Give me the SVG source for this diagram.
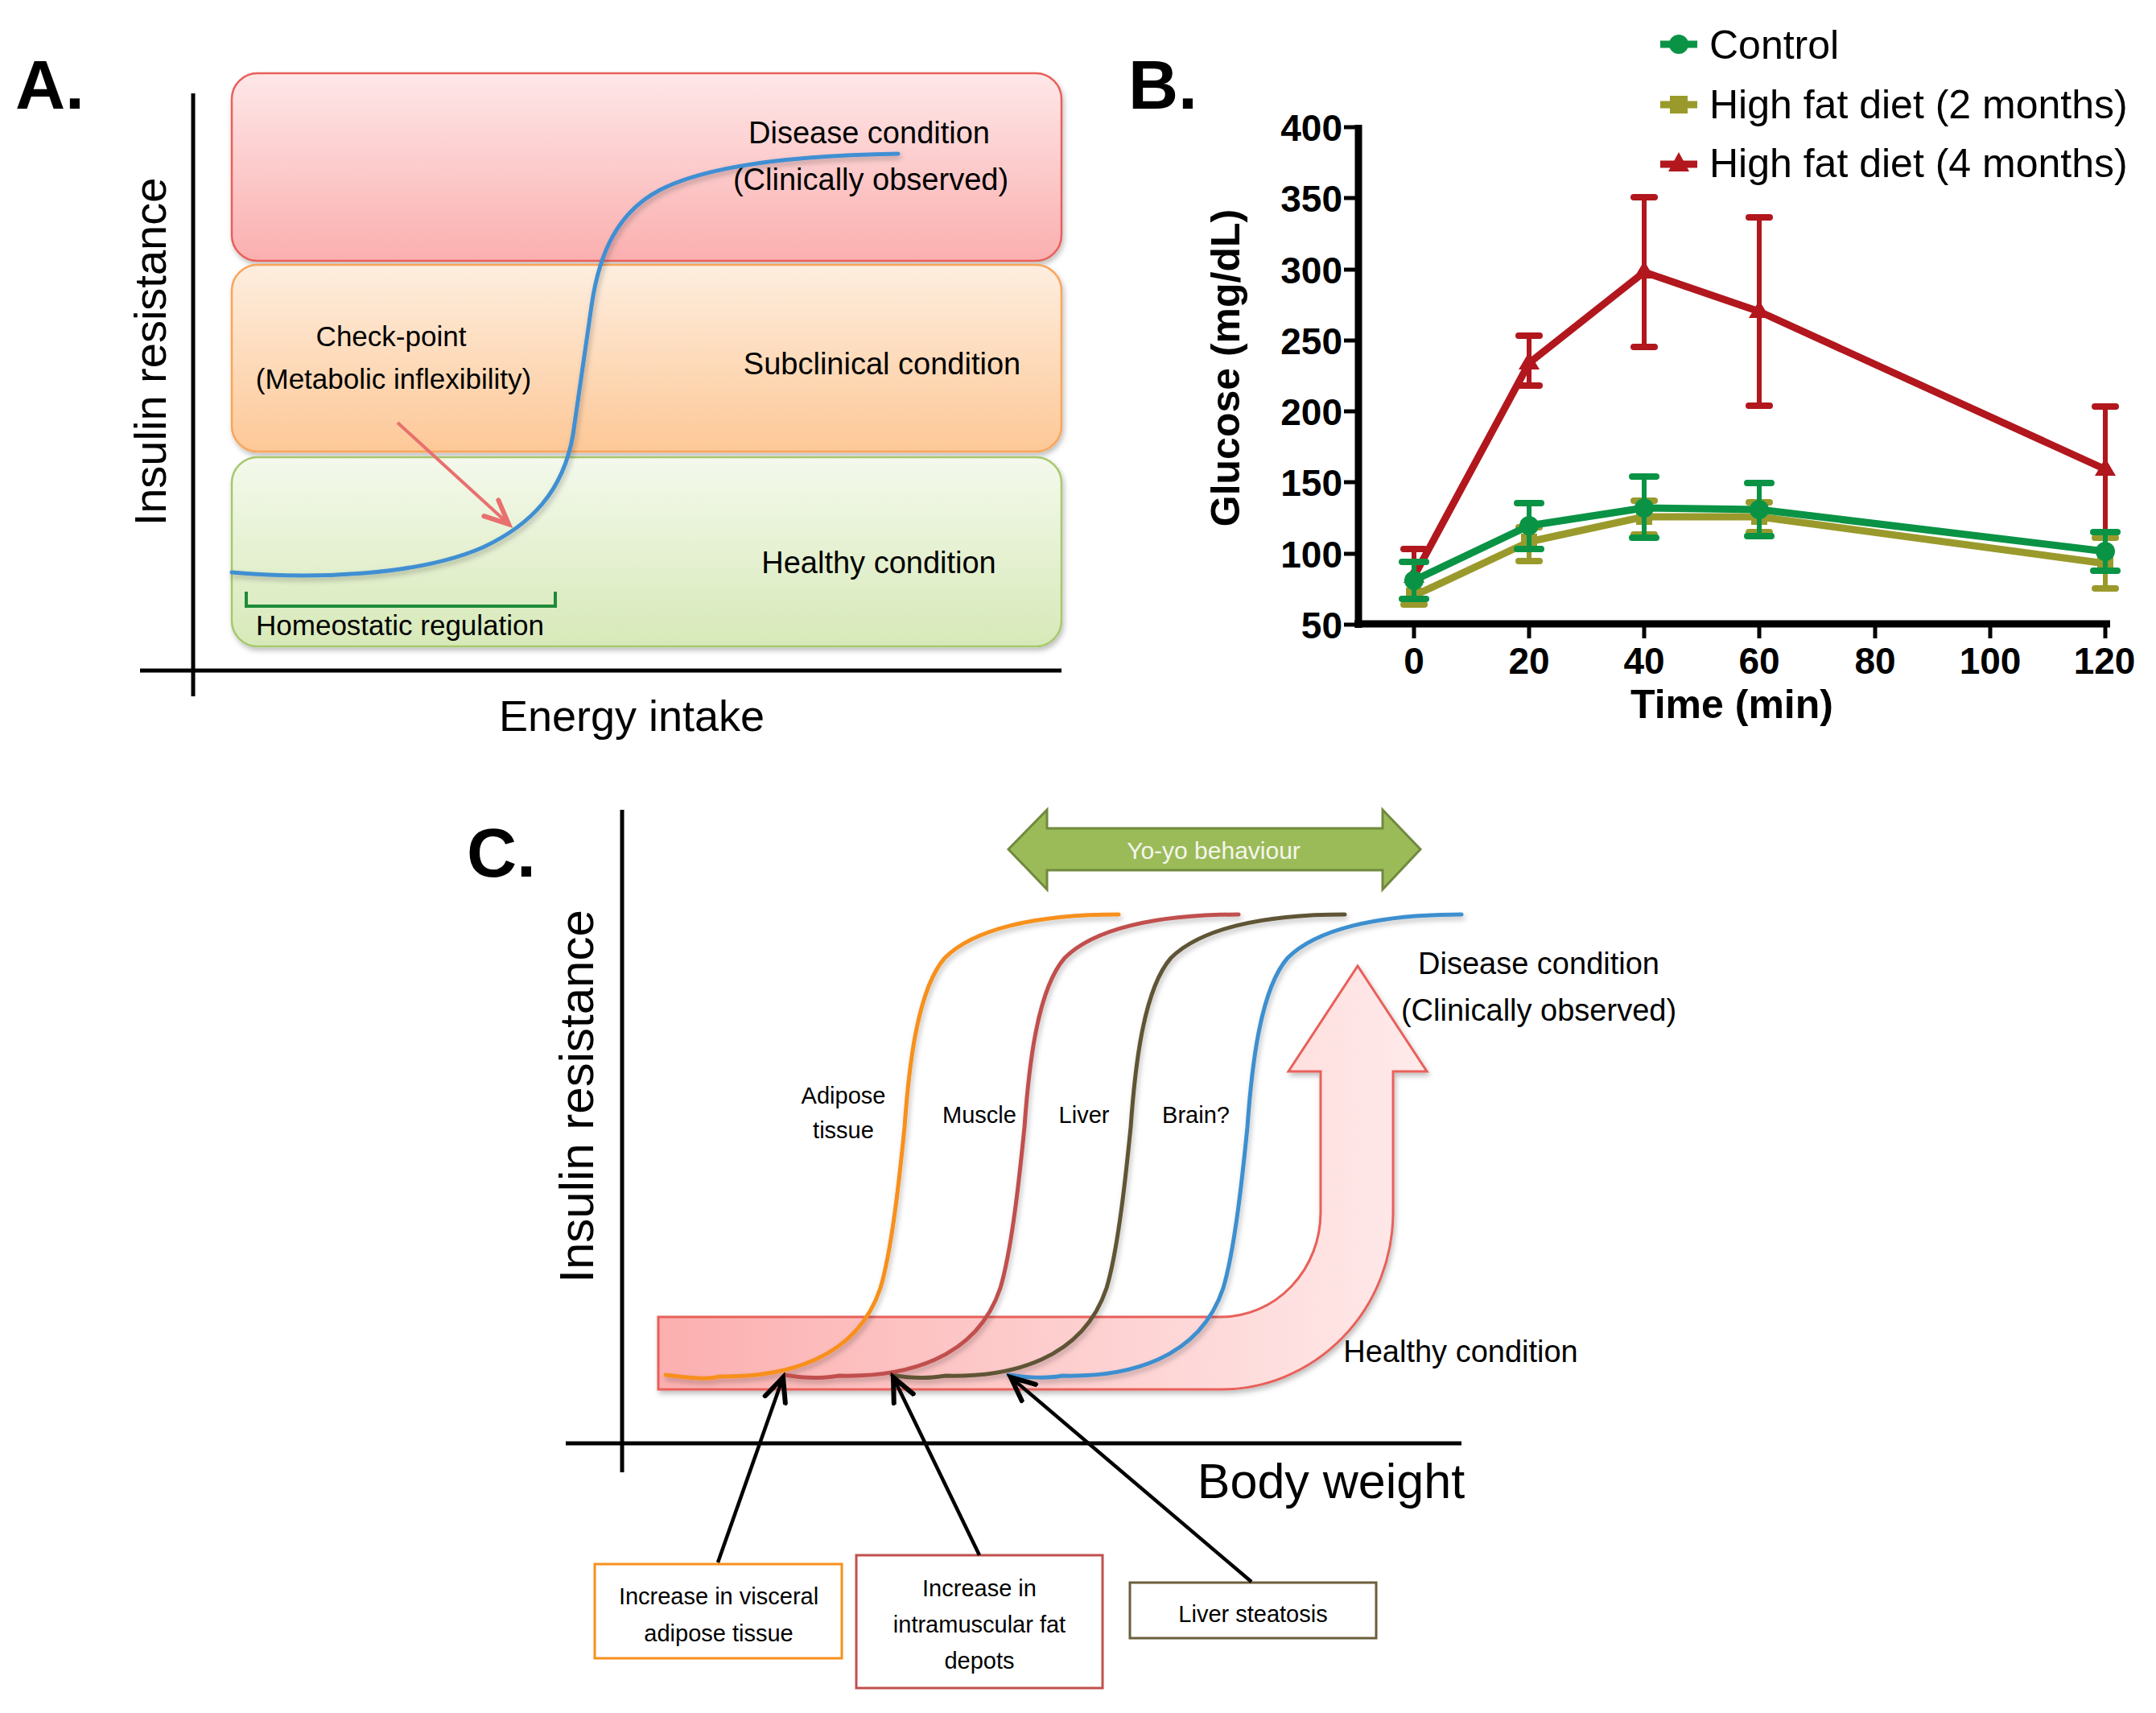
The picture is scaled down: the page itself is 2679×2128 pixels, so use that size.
<svg xmlns="http://www.w3.org/2000/svg" width="2679" height="2128" viewBox="0 0 2679 2128">
<defs>
<style>
text{font-family:"Liberation Sans",Arial,sans-serif;fill:#000}
.lbl{font-weight:bold;font-size:86px}
.a{font-size:38px;text-anchor:middle}
.s{font-size:35px;text-anchor:middle}
.c{font-size:29px;text-anchor:middle}
.tk{font-size:46px;font-weight:bold}
.lg{font-size:50px}
.ax{stroke:#000;stroke-width:5;fill:none}
.bax{stroke:#000;stroke-width:9;fill:none}
.cur{fill:none;stroke-width:5;stroke-linecap:round}
.eb{fill:none;stroke-linecap:round}
.box{fill:#fff;stroke-width:3}
</style>
<linearGradient id="gR" x1="0" y1="0" x2="0" y2="1"><stop offset="0" stop-color="#FEE7E8"/><stop offset="1" stop-color="#FBAFAF"/></linearGradient>
<linearGradient id="gO" x1="0" y1="0" x2="0" y2="1"><stop offset="0" stop-color="#FEEEDF"/><stop offset="1" stop-color="#FDC897"/></linearGradient>
<linearGradient id="gG" x1="0" y1="0" x2="0" y2="1"><stop offset="0" stop-color="#F4F9EC"/><stop offset="1" stop-color="#D7E9B8"/></linearGradient>
<linearGradient id="gP" gradientUnits="userSpaceOnUse" x1="818" y1="0" x2="1773" y2="0"><stop offset="0" stop-color="#FCAFAF"/><stop offset="1" stop-color="#FFEAEA"/></linearGradient>
<filter id="sh" x="-5%" y="-5%" width="110%" height="115%"><feDropShadow dx="2" dy="4" stdDeviation="3" flood-color="#000" flood-opacity="0.25"/></filter>
<marker id="ab" markerUnits="userSpaceOnUse" markerWidth="40" markerHeight="40" refX="24" refY="12" orient="auto" viewBox="0 0 30 24"><path d="M2,2 L24,12 L2,22" fill="none" stroke="#000" stroke-width="4.5" stroke-linecap="round"/></marker>
<marker id="ar" markerUnits="userSpaceOnUse" markerWidth="40" markerHeight="40" refX="24" refY="12" orient="auto" viewBox="0 0 30 24"><path d="M2,2 L24,12 L2,22" fill="none" stroke="#E8706E" stroke-width="4.5" stroke-linecap="round"/></marker>
</defs>
<rect width="2679" height="2128" fill="#fff"/>

<!-- Panel A -->
<g id="panelA">
<text class="lbl" x="19" y="135">A.</text>
<g id="a-disease"><rect x="288" y="91" width="1031" height="233" rx="32" fill="url(#gR)" stroke="#E8605A" stroke-width="2.5" filter="url(#sh)"/>
<text class="a" x="1080" y="178">Disease condition</text><text class="a" x="1082" y="236">(Clinically observed)</text></g>
<g id="a-subclinical"><rect x="288" y="329" width="1031" height="232" rx="32" fill="url(#gO)" stroke="#F9A55A" stroke-width="2.5" filter="url(#sh)"/>
<text class="a" x="1096" y="465">Subclinical condition</text>
<text class="s" x="486" y="430">Check-point</text><text class="s" x="489" y="483">(Metabolic inflexibility)</text></g>
<g id="a-healthy"><rect x="288" y="568" width="1031" height="235" rx="32" fill="url(#gG)" stroke="#A6C86E" stroke-width="2.5" filter="url(#sh)"/>
<text class="a" x="1092" y="712">Healthy condition</text>
<text class="s" x="497" y="789">Homeostatic regulation</text></g>
<g id="a-axes">
<line class="ax" x1="240" y1="116" x2="240" y2="865"/>
<line class="ax" x1="174" y1="833" x2="1319" y2="833"/>
<text transform="translate(206,437) rotate(-90)" font-size="56" text-anchor="middle">Insulin resistance</text>
<text x="785" y="908" font-size="54" text-anchor="middle">Energy intake</text>
</g>
<g id="a-connectors">
<path class="cur" stroke="#3F8FD2" stroke-width="4.5" d="M288,711 C390,720 520,715 600,680 C660,652 700,610 712,540 L735,380 C745,310 770,262 820,236 C880,205 990,193 1116,191" filter="url(#sh)"/>
<path d="M306,735 L306,753 L690,753 L690,735" fill="none" stroke="#1E8B3A" stroke-width="4"/>
<line x1="494" y1="525" x2="632" y2="651" stroke="#E8706E" stroke-width="4" marker-end="url(#ar)"/>
</g>
</g>

<!-- Panel B -->
<g id="panelB">
<text class="lbl" x="1402" y="135">B.</text>
<g id="b-axes">
<line class="bax" x1="1688" y1="155" x2="1688" y2="780"/>
<line class="bax" x1="1683" y1="775" x2="2622" y2="775"/>
<g stroke="#000" stroke-width="5">
<line x1="1670" y1="158" x2="1688" y2="158"/><line x1="1670" y1="246" x2="1688" y2="246"/><line x1="1670" y1="335" x2="1688" y2="335"/><line x1="1670" y1="423" x2="1688" y2="423"/><line x1="1670" y1="511" x2="1688" y2="511"/><line x1="1670" y1="599" x2="1688" y2="599"/><line x1="1670" y1="688" x2="1688" y2="688"/><line x1="1670" y1="776" x2="1688" y2="776"/>
<line x1="1757" y1="775" x2="1757" y2="793"/><line x1="1900" y1="775" x2="1900" y2="793"/><line x1="2043" y1="775" x2="2043" y2="793"/><line x1="2186" y1="775" x2="2186" y2="793"/><line x1="2330" y1="775" x2="2330" y2="793"/><line x1="2473" y1="775" x2="2473" y2="793"/><line x1="2616" y1="775" x2="2616" y2="793"/>
</g>
<g class="tk" text-anchor="end">
<text class="tk" x="1668" y="175">400</text><text class="tk" x="1668" y="263">350</text><text class="tk" x="1668" y="352">300</text><text class="tk" x="1668" y="440">250</text><text class="tk" x="1668" y="528">200</text><text class="tk" x="1668" y="616">150</text><text class="tk" x="1668" y="705">100</text><text class="tk" x="1668" y="793">50</text>
</g>
<g text-anchor="middle">
<text class="tk" x="1757" y="837">0</text><text class="tk" x="1900" y="837">20</text><text class="tk" x="2043" y="837">40</text><text class="tk" x="2186" y="837">60</text><text class="tk" x="2330" y="837">80</text><text class="tk" x="2473" y="837">100</text><text class="tk" x="2615" y="837">120</text>
</g>
<text transform="translate(1540,457) rotate(-90)" font-size="50" font-weight="bold" text-anchor="middle">Glucose (mg/dL)</text>
<text x="2152" y="892" font-size="50" font-weight="bold" text-anchor="middle">Time (min)</text>
</g>
<g id="b-hfd4">
<g class="eb" stroke="#B1171D" stroke-width="6">
<line x1="1757" y1="682" x2="1757" y2="716"/><line x1="1900" y1="417" x2="1900" y2="479"/><line x1="2043" y1="245" x2="2043" y2="431"/><line x1="2186" y1="270" x2="2186" y2="504"/><line x1="2616" y1="505" x2="2616" y2="661"/>
</g>
<g class="eb" stroke="#B1171D" stroke-width="8">
<line x1="1744" y1="682" x2="1770" y2="682"/><line x1="1887" y1="417" x2="1913" y2="417"/><line x1="1887" y1="479" x2="1913" y2="479"/><line x1="2030" y1="245" x2="2056" y2="245"/><line x1="2030" y1="431" x2="2056" y2="431"/><line x1="2173" y1="270" x2="2199" y2="270"/><line x1="2173" y1="504" x2="2199" y2="504"/><line x1="2603" y1="505" x2="2629" y2="505"/>
</g>
<polyline points="1757,716 1900,451 2043,338 2186,387 2616,583" fill="none" stroke="#B1171D" stroke-width="9" stroke-linejoin="round"/>
<g fill="#B1171D"><path d="M1757,702 l13,22 h-26z"/><path d="M1900,437 l13,22 h-26z"/><path d="M2043,324 l13,22 h-26z"/><path d="M2186,373 l13,22 h-26z"/><path d="M2616,569 l13,22 h-26z"/></g>
</g>
<g id="b-hfd2">
<g class="eb" stroke="#9A9A2C" stroke-width="6">
<line x1="1757" y1="719" x2="1757" y2="751"/><line x1="1900" y1="655" x2="1900" y2="697"/><line x1="2043" y1="622" x2="2043" y2="664"/><line x1="2186" y1="624" x2="2186" y2="661"/><line x1="2616" y1="668" x2="2616" y2="731"/>
</g>
<g class="eb" stroke="#9A9A2C" stroke-width="8">
<line x1="1744" y1="751" x2="1770" y2="751"/><line x1="1887" y1="655" x2="1913" y2="655"/><line x1="1887" y1="697" x2="1913" y2="697"/><line x1="2030" y1="622" x2="2056" y2="622"/><line x1="2030" y1="664" x2="2056" y2="664"/><line x1="2173" y1="624" x2="2199" y2="624"/><line x1="2173" y1="661" x2="2199" y2="661"/><line x1="2603" y1="668" x2="2629" y2="668"/><line x1="2603" y1="731" x2="2629" y2="731"/>
</g>
<polyline points="1757,740 1900,673 2043,642 2186,642 2616,700" fill="none" stroke="#9A9A2C" stroke-width="9" stroke-linejoin="round"/>
<g fill="#9A9A2C"><rect x="1747" y="730" width="20" height="20"/><rect x="1890" y="663" width="20" height="20"/><rect x="2033" y="632" width="20" height="20"/><rect x="2176" y="632" width="20" height="20"/><rect x="2606" y="690" width="20" height="20"/></g>
</g>
<g id="b-control">
<g class="eb" stroke="#0A9345" stroke-width="6">
<line x1="1757" y1="698" x2="1757" y2="744"/><line x1="1900" y1="625" x2="1900" y2="682"/><line x1="2043" y1="592" x2="2043" y2="668"/><line x1="2186" y1="600" x2="2186" y2="666"/><line x1="2616" y1="661" x2="2616" y2="709"/>
</g>
<g class="eb" stroke="#0A9345" stroke-width="8">
<line x1="1742" y1="698" x2="1772" y2="698"/><line x1="1742" y1="744" x2="1772" y2="744"/><line x1="1885" y1="625" x2="1915" y2="625"/><line x1="1885" y1="682" x2="1915" y2="682"/><line x1="2028" y1="592" x2="2058" y2="592"/><line x1="2028" y1="668" x2="2058" y2="668"/><line x1="2171" y1="600" x2="2201" y2="600"/><line x1="2171" y1="666" x2="2201" y2="666"/><line x1="2601" y1="661" x2="2631" y2="661"/><line x1="2601" y1="709" x2="2631" y2="709"/>
</g>
<polyline points="1757,721 1900,653 2043,631 2186,633 2616,685" fill="none" stroke="#0A9345" stroke-width="9" stroke-linejoin="round"/>
<g fill="#0A9345"><circle cx="1757" cy="721" r="12"/><circle cx="1900" cy="653" r="12"/><circle cx="2043" cy="631" r="12"/><circle cx="2186" cy="633" r="12"/><circle cx="2616" cy="685" r="12"/></g>
</g>
<g id="b-legend">
<line x1="2063" y1="55" x2="2109" y2="55" stroke="#0A9345" stroke-width="9"/><circle cx="2086" cy="55" r="12" fill="#0A9345"/>
<text class="lg" x="2124" y="73">Control</text>
<line x1="2063" y1="130" x2="2109" y2="130" stroke="#9A9A2C" stroke-width="9"/><rect x="2075" y="119" width="22" height="22" fill="#9A9A2C"/>
<text class="lg" x="2124" y="147">High fat diet (2 months)</text>
<line x1="2063" y1="204" x2="2109" y2="204" stroke="#B1171D" stroke-width="9"/><path d="M2086,189 l13,24 h-26z" fill="#B1171D"/>
<text class="lg" x="2124" y="220">High fat diet (4 months)</text>
</g>
</g>

<!-- Panel C -->
<g id="panelC">
<text class="lbl" x="580" y="1089">C.</text>
<g id="c-axes">
<line class="ax" x1="773" y1="1006" x2="773" y2="1829"/>
<line class="ax" x1="703" y1="1793" x2="1816" y2="1793"/>
<text transform="translate(737,1362) rotate(-90)" font-size="60" text-anchor="middle">Insulin resistance</text>
<text x="1654" y="1861" font-size="61" text-anchor="middle">Body weight</text>
</g>
<g id="c-yoyo">
<path d="M1253,1055 L1301,1006 L1301,1029 L1718,1029 L1718,1006 L1765,1055 L1718,1105 L1718,1081 L1301,1081 L1301,1105 Z" fill="#9BBB59" stroke="#71893F" stroke-width="3"/>
<text x="1508" y="1067" font-size="30" text-anchor="middle" style="fill:#F4F6EE">Yo-yo behaviour</text>
</g>
<g id="c-bigarrow">
<path d="M818,1636 L1517,1636 A124,130 0 0 0 1641,1506 L1641,1331 L1601,1331 L1687,1200 L1773,1331 L1731,1331 L1731,1506 A214,220 0 0 1 1517,1726 L818,1726 Z" fill="url(#gP)" stroke="#E8605A" stroke-width="3" filter="url(#sh)"/>
</g>
<g id="c-labels">
<text class="a" x="1912" y="1210">Disease condition</text>
<text class="a" x="1912" y="1268">(Clinically observed)</text>
<text class="a" x="1815" y="1692" font-size="39">Healthy condition</text>
<text class="c" x="1048" y="1371">Adipose</text><text class="c" x="1048" y="1414">tissue</text>
<text class="c" x="1217" y="1395">Muscle</text>
<text class="c" x="1347" y="1395">Liver</text>
<text class="c" x="1486" y="1395">Brain?</text>
</g>
<g id="c-curves" filter="url(#sh)">
<path class="cur" stroke="#3D8FCF" d="M1253,1708 C1290,1713 1310,1711 1320,1709 C1400,1711 1490,1690 1520,1600 C1535,1550 1545,1450 1550,1400 C1555,1330 1565,1230 1600,1190 C1635,1155 1710,1136 1816,1136"/>
<path class="cur" stroke="#5F5436" d="M1108,1708 C1140,1714 1160,1711 1175,1709 C1255,1711 1345,1690 1375,1600 C1390,1550 1400,1450 1405,1400 C1410,1330 1420,1230 1455,1190 C1490,1155 1565,1136 1671,1136"/>
<path class="cur" stroke="#C0504D" d="M975,1708 C1010,1714 1030,1711 1043,1709 C1123,1711 1213,1690 1243,1600 C1258,1550 1268,1450 1273,1400 C1278,1330 1288,1230 1323,1190 C1358,1155 1433,1136 1539,1136"/>
<path class="cur" stroke="#F7901E" d="M827,1708 C860,1712 880,1714 894,1710 C974,1711 1064,1690 1094,1600 C1109,1550 1119,1450 1124,1400 C1129,1330 1139,1230 1174,1190 C1209,1155 1284,1136 1390,1136"/>
</g>
<g id="c-box1"><rect class="box" x="739" y="1943" width="307" height="117" stroke="#F7901E"/>
<text class="c" x="893" y="1993">Increase in visceral</text><text class="c" x="893" y="2039">adipose tissue</text></g>
<g id="c-box2"><rect class="box" x="1064" y="1932" width="306" height="165" stroke="#C0504D"/>
<text class="c" x="1217" y="1983">Increase in</text><text class="c" x="1217" y="2028">intramuscular fat</text><text class="c" x="1217" y="2073">depots</text></g>
<g id="c-box3"><rect class="box" x="1404" y="1966" width="306" height="69" stroke="#6B5E3A"/>
<text class="c" x="1557" y="2015">Liver steatosis</text></g>
<g id="c-connectors" stroke="#000" stroke-width="4.5" fill="none">
<line x1="892" y1="1941" x2="973" y2="1711" marker-end="url(#ab)"/>
<line x1="1217" y1="1932" x2="1110" y2="1711" marker-end="url(#ab)"/>
<line x1="1555" y1="1965" x2="1256" y2="1711" marker-end="url(#ab)"/>
</g>
</g>
</svg>
